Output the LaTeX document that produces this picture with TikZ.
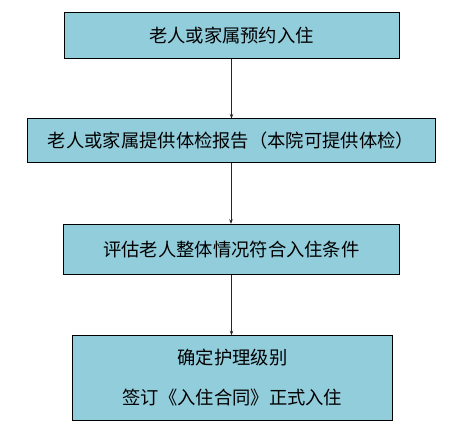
\documentclass[tikz,border=0pt]{standalone}
\usepackage{fontspec}
\newfontfamily\cjk{Noto Sans CJK SC}
\usetikzlibrary{arrows.meta}
\definecolor{boxfill}{HTML}{92CDDC}
\tikzset{
  stepbox/.style={draw=black, line width=1pt, fill=boxfill, inner sep=0pt, align=center,
    font=\cjk\fontsize{18.3pt}{40pt}\selectfont},
  flow/.style={draw=black!85, line width=0.8pt, -{Stealth[length=4.5pt,width=3.5pt]}}
}
\begin{document}
\begin{tikzpicture}[x=1pt,y=-1pt]
\useasboundingbox (0,0) rectangle (467,436);
\node[stepbox, minimum width=335pt, minimum height=46pt] (b1) at (231.5,35.5) {老人或家属预约入住};
\node[stepbox, minimum width=408pt, minimum height=44pt] (b2) at (231,141) {老人或家属提供体检报告（本院可提供体检）};
\node[stepbox, minimum width=336.5pt, minimum height=50pt] (b3) at (231.5,249.3) {评估老人整体情况符合入住条件};
\node[stepbox, minimum width=319.6pt, minimum height=84.6pt] (b4) at (232.5,378) {确定护理级别\\签订《入住合同》正式入住};
\draw[flow] (b1.south) -- (b1.south |- b2.north);
\draw[flow] (b2.south) -- (b2.south |- b3.north);
\draw[flow] (b3.south) -- (b3.south |- b4.north);
\end{tikzpicture}
\end{document}
